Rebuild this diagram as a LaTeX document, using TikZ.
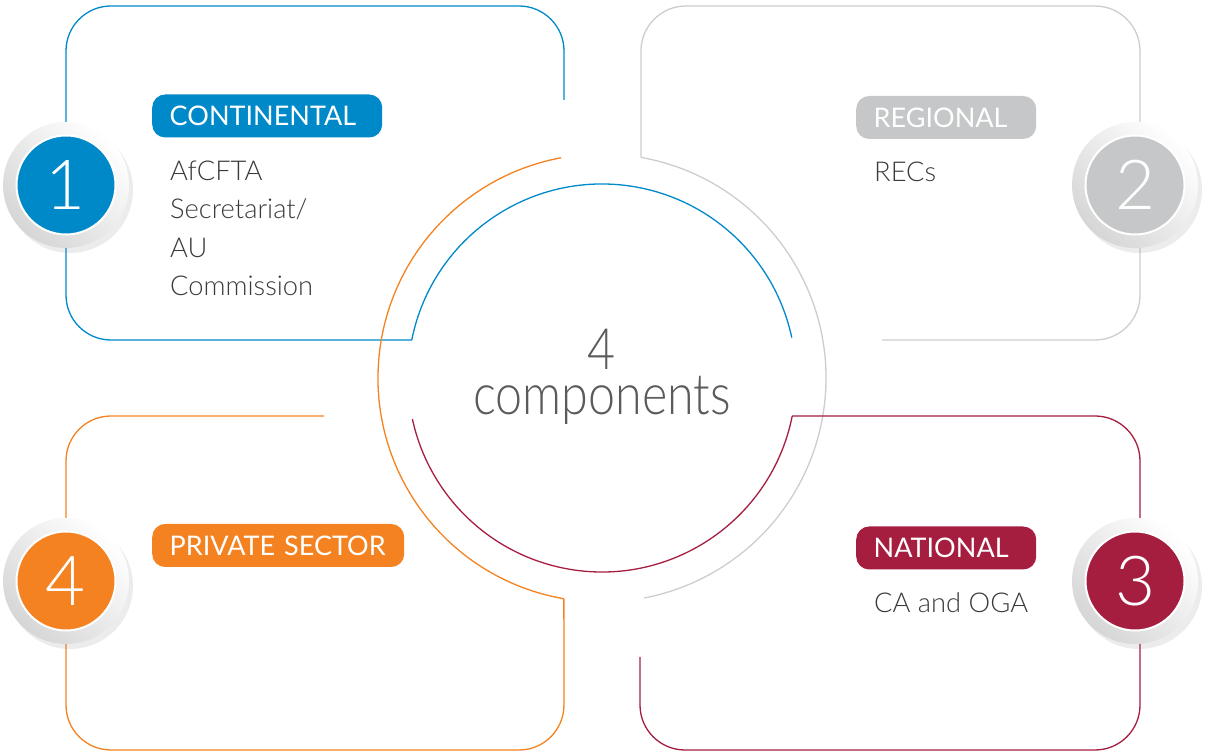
\documentclass[tikz,border=0pt]{standalone}
\usepackage{fontspec}
\setmainfont{Lato}
\newfontfamily\lightfont{Lato Light}
\newfontfamily\narrowfont{Lato Light}[FakeStretch=0.85]
\usepackage{tikz}
\usetikzlibrary{positioning,shadows}
\definecolor{contblue}{HTML}{0089C9}
\definecolor{reggray}{HTML}{C6C7C8}
\definecolor{regline}{HTML}{CDCDCD}
\definecolor{natred}{HTML}{A51D3F}
\definecolor{privorange}{HTML}{F58220}
\definecolor{bodytext}{HTML}{3A3A3A}
\definecolor{centertext}{HTML}{5A5B5D}
\definecolor{ringgray}{HTML}{D6D6D6}
\hyphenpenalty=10000

\begin{document}
\begin{tikzpicture}[
  x=1pt, y=1pt,
  frame/.style={line width=1.3pt, rounded corners=45pt},
  tag/.style={rounded corners=13pt, minimum height=43pt, inner xsep=17.5pt,
    inner ysep=0pt, anchor=west, align=left, text=white,
    font=\fontsize{27}{30}\selectfont},
  body/.style={inner sep=0pt, align=left, text=bodytext,
    font=\lightfont\fontsize{27.3}{38.3}\selectfont},
  ring/.style={circle, minimum size=126pt, inner sep=0pt, left color=ringgray,
    right color=white, shading angle=135,
    drop shadow={shadow xshift=4pt, shadow yshift=-5pt, opacity=0.15}},
  num/.style={circle, minimum size=99pt, inner sep=0pt, draw=white,
    line width=2pt, text=white, font=\lightfont\fontsize{69}{69}\selectfont}
]
\useasboundingbox (0,0) rectangle (1207,752);
\coordinate (c) at (602,374);
\coordinate (contend) at ([shift={(168.7:194)}]c);
\coordinate (regend) at ([shift={(80:224)}]c);
\coordinate (natend) at ([shift={(-11.3:194)}]c);
\coordinate (privend) at ([shift={(260.2:224)}]c);

% Frames running into the two rings
\draw[frame, contblue] (564,652) -- (564,746) -- (66,746) -- (66,412) -- (contend);
\draw[line width=1.3pt, contblue] (contend) arc[start angle=168.7, end angle=12, radius=194];
\draw[frame, regline] (882,412) -- (1140,412) -- (1140,746) -- (641,746) -- (regend);
\draw[line width=1.3pt, regline] (regend) arc[start angle=80, end angle=-79.2, radius=224];
\draw[frame, natred] (640,95) -- (640,2) -- (1140,2) -- (1140,336) -- (natend);
\draw[line width=1.3pt, natred] (natend) arc[start angle=-11.3, end angle=-167.8, radius=194];
\draw[frame, privorange] (324,336) -- (66,336) -- (66,2) -- (564,2) -- (privend);
\draw[line width=1.3pt, privorange] (privend) arc[start angle=260.2, end angle=100.5, radius=224];

% Centre
\node[font=\narrowfont\fontsize{57}{45}\selectfont, text=centertext, align=center]
  (comp) at (602,375.5) {4\\components};

% Numbered badges
\node[ring] (ring1) at (66,567) {};
\node[num, fill=contblue] (num1) at (ring1) {1};
\node[ring] (ring2) at (1135,567) {};
\node[num, fill=reggray] (num2) at (ring2) {2};
\node[ring] (ring3) at (1135,171) {};
\node[num, fill=natred] (num3) at (ring3) {3};
\node[ring] (ring4) at (66,171) {};
\node[num, fill=privorange] (num4) at (ring4) {4};

% Level tags and members
\node[tag, fill=contblue, text width=195pt] (cont) at (152,636) {CONTINENTAL};
\node[tag, fill=reggray, text width=145pt] (reg) at (856,634.5) {REGIONAL};
\node[tag, fill=natred, text width=145pt] (nat) at (856,204) {NATIONAL};
\node[tag, fill=privorange, text width=217pt] (priv) at (152,206.5) {PRIVATE~SECTOR};

\node[body, below right=23pt and 18pt of cont.south west] (contbody)
  {AfCFTA\\Secretariat/\\AU\\Commission};
\node[body, below right=23pt and 18pt of reg.south west] (regbody) {RECs};
\node[body, below right=23pt and 18pt of nat.south west] (natbody) {CA and OGA};

\end{tikzpicture}
\end{document}
